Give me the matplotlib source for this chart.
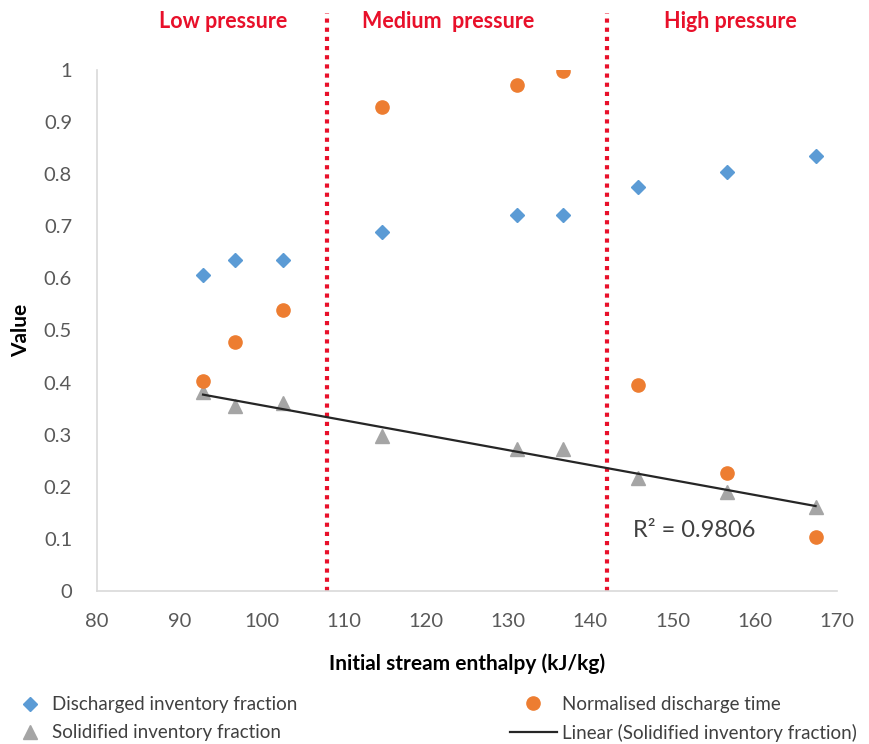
import numpy as np
import matplotlib
matplotlib.use("Agg")
import matplotlib.pyplot as plt

plt.rcParams['font.family'] = ['Lato', 'DejaVu Sans']

# data
enthalpy = [92.9, 96.8, 102.6, 114.7, 131.1, 136.7, 145.8, 156.6, 167.4]
discharged = [0.607, 0.636, 0.636, 0.689, 0.722, 0.722, 0.775, 0.804, 0.835]
norm_time = [0.403, 0.478, 0.539, 0.929, 0.971, 0.998, 0.395, 0.226, 0.104]
solidified = [0.382, 0.355, 0.360, 0.297, 0.272, 0.272, 0.217, 0.190, 0.162]

region_bounds = [108, 142]
region_labels = ["Low pressure", "Medium  pressure", "High pressure"]
region_label_x = [95.3, 122.7, 157.0]
r2_text = "R² = 0.9806"

fig = plt.figure(figsize=(8.7, 7.44), dpi=100)
ax = fig.add_axes([0.1115, 0.2056, 0.8505, 0.7004])

l_dis, = ax.plot(enthalpy, discharged, linestyle='none', marker='D', markersize=7.5,
                 color='#5B9BD5', label='Discharged inventory fraction')
l_sol, = ax.plot(enthalpy, solidified, linestyle='none', marker='^', markersize=10,
                 color='#A5A5A5', label='Solidified inventory fraction')
l_tim, = ax.plot(enthalpy, norm_time, linestyle='none', marker='o', markersize=9.5,
                 color='#ED7D31', label='Normalised discharge time')

# linear trend line on the solidified fraction
slope, icpt = np.polyfit(enthalpy, solidified, 1)
xs = np.array([min(enthalpy), max(enthalpy)])
l_lin, = ax.plot(xs, slope * xs + icpt, color='#262626', linewidth=1.6,
                 label='Linear (Solidified inventory fraction)')
ax.text(145.2, 0.117, r2_text, fontsize=17, color='#404040', va='center')

# pressure regions
for xb in region_bounds:
    ax.plot([xb, xb], [0, 1.11], color='#E8102A', linestyle=(0, (1, 1.2)),
            linewidth=3, clip_on=False, zorder=1)
for lx, lab in zip(region_label_x, region_labels):
    ax.text(lx, 1.092, lab, color='#E8102A', fontsize=15.5, fontweight='bold',
            ha='center', va='center', clip_on=False)

ax.set_xlim(80, 170)
ax.set_ylim(0, 1)
ax.set_xticks(np.arange(80, 171, 10))
ax.set_yticks(np.arange(0, 1.01, 0.1))
ax.set_yticklabels(['0'] + [f'{v:.1f}' for v in np.arange(0.1, 0.95, 0.1)] + ['1'])
ax.tick_params(length=0, labelsize=14.5, labelcolor='#595959')
ax.tick_params(axis='y', pad=18)
ax.tick_params(axis='x', pad=16)

for side in ['top', 'right']:
    ax.spines[side].set_visible(False)
for side in ['left', 'bottom']:
    ax.spines[side].set_color('#D9D9D9')
    ax.spines[side].set_linewidth(1.2)

ax.set_xlabel('Initial stream enthalpy (kJ/kg)', fontsize=15, fontweight='bold',
              labelpad=17)
ax.set_ylabel('Value', fontsize=15, fontweight='bold', labelpad=9)

leg_kw = dict(frameon=False, fontsize=13.5, labelcolor='#404040',
              borderpad=0, borderaxespad=0, loc='center left', labelspacing=0.58)
fig.legend([l_dis, l_sol], [l_dis.get_label(), l_sol.get_label()],
           bbox_to_anchor=(19 / 870, 0.034), handlelength=1.2,
           handletextpad=0.56, **leg_kw)
fig.legend([l_tim, l_lin], [l_tim.get_label(), l_lin.get_label()],
           bbox_to_anchor=(510 / 870, 0.034), handlelength=2.5,
           handletextpad=0.27, **leg_kw)

fig.savefig('out.png', dpi=100)
